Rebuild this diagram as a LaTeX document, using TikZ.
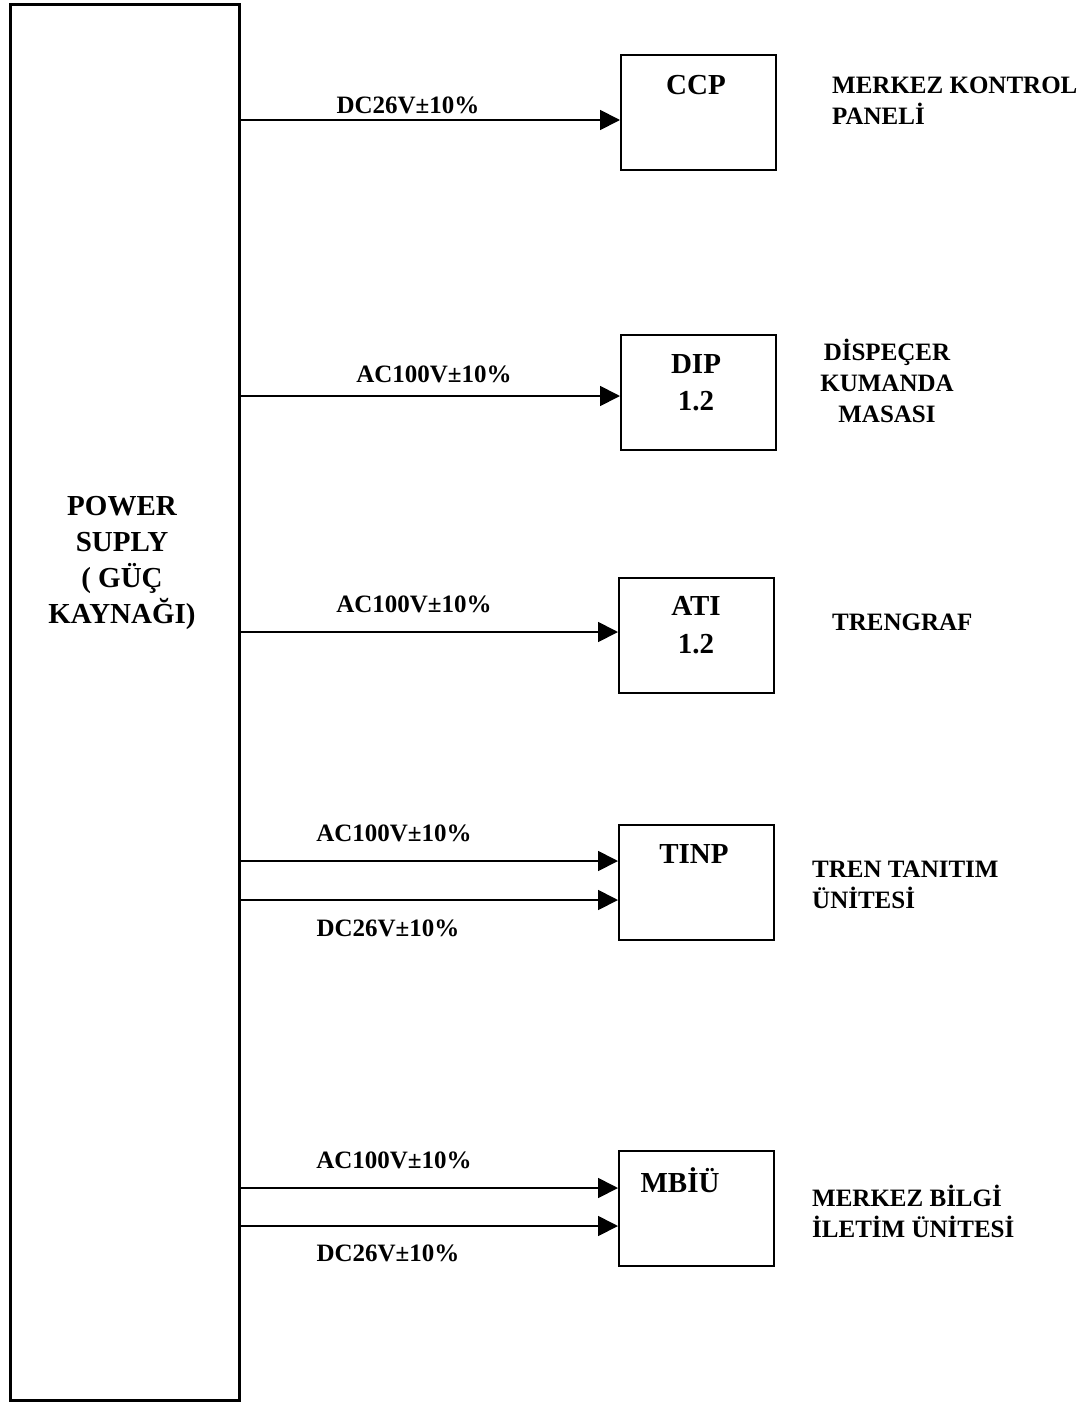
\documentclass[tikz,border=0pt]{standalone}
\usepackage{fontspec}
\setmainfont{Liberation Serif}
\usetikzlibrary{arrows.meta}
\begin{document}
\begin{tikzpicture}[x=1pt,y=-1pt,
  unit/.style={draw,line width=2pt,minimum width=155pt,minimum height=115pt,inner sep=0pt,anchor=north west},
  title/.style={font=\fontsize{29}{34}\selectfont\bfseries,inner sep=0pt},
  volt/.style={font=\fontsize{25}{30}\selectfont\bfseries,inner sep=0pt},
  side/.style={font=\fontsize{25}{31}\selectfont\bfseries,inner sep=0pt},
  feed/.style={line width=1.8pt,-{Triangle[length=20pt,width=20pt]}}]
\useasboundingbox (0,0) rectangle (1086,1402);
% power supply
\node[draw,line width=3pt,minimum width=229pt,minimum height=1396pt,inner sep=0pt,anchor=north west] (ps) at (9,3) {};
\node[font=\fontsize{29}{36}\selectfont\bfseries,align=center,inner sep=0pt] (pst) at (122,563) {POWER\\SUPLY\\( GÜÇ\\KAYNAĞI)};
% units
\node[unit] (ccp) at (620,54) {};
\node[unit] (dip) at (620,334) {};
\node[unit] (ati) at (618,577) {};
\node[unit] (tinp) at (618,824) {};
\node[unit] (mbiu) at (618,1150) {};
% titles
\node[title] (ccpt) at (696,85) {CCP};
\node[title] (dipt) at (696,364) {DIP};
\node[title] (dipn) at (696,401) {1.2};
\node[title] (atit) at (696,606) {ATI};
\node[title] (atin) at (696,644) {1.2};
\node[title] (tinpt) at (694,854) {TINP};
\node[title] (mbiut) at (680,1180) {MBİÜ};
% feed points
\coordinate (p1) at (238,120);  \coordinate (q1) at (620,120);
\coordinate (p2) at (238,396);  \coordinate (q2) at (620,396);
\coordinate (p3) at (238,632);  \coordinate (q3) at (618,632);
\coordinate (p4) at (238,861);  \coordinate (q4) at (618,861);
\coordinate (p5) at (238,900);  \coordinate (q5) at (618,900);
\coordinate (p6) at (238,1188); \coordinate (q6) at (618,1188);
\coordinate (p7) at (238,1226); \coordinate (q7) at (618,1226);
\draw[feed] (p1) -- (q1);
\draw[feed] (p2) -- (q2);
\draw[feed] (p3) -- (q3);
\draw[feed] (p4) -- (q4);
\draw[feed] (p5) -- (q5);
\draw[feed] (p6) -- (q6);
\draw[feed] (p7) -- (q7);
% voltage labels
\node[volt] (v1) at (408,105) {DC26V±10\%};
\node[volt] (v2) at (434,374) {AC100V±10\%};
\node[volt] (v3) at (414,604) {AC100V±10\%};
\node[volt] (v4) at (394,833) {AC100V±10\%};
\node[volt] (v5) at (388,928) {DC26V±10\%};
\node[volt] (v6) at (394,1160) {AC100V±10\%};
\node[volt] (v7) at (388,1253) {DC26V±10\%};
% side descriptions
\node[side,align=left,anchor=west] (d1) at (832,101) {MERKEZ KONTROL\\PANELİ};
\node[side,align=center] (d2) at (887,381) {DİSPEÇER\\KUMANDA\\MASASI};
\node[side,anchor=west] (d3) at (832,622) {TRENGRAF};
\node[side,align=left,anchor=west] (d4) at (812,885) {TREN TANITIM\\ÜNİTESİ};
\node[side,align=left,anchor=west] (d5) at (812,1211) {MERKEZ BİLGİ\\İLETİM ÜNİTESİ};
\end{tikzpicture}
\end{document}
